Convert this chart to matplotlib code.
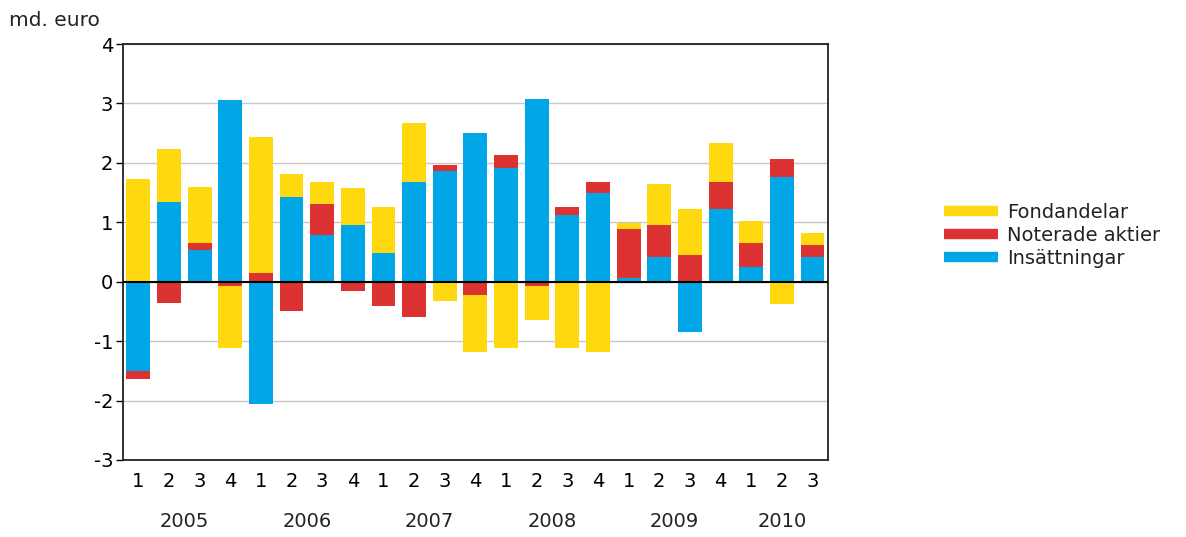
import numpy as np
import matplotlib
matplotlib.use('Agg')
import matplotlib.pyplot as plt
from matplotlib.lines import Line2D

plt.rcParams.update({
    'font.family': ['DejaVu Sans'],
    'font.size': 14,
    'text.color': '#222222',
    'axes.unicode_minus': False,
})

quarters = ['1', '2', '3', '4'] * 5 + ['1', '2', '3']
years = ['2005', '2006', '2007', '2008', '2009', '2010']

# md. euro per quarter, 2005Q1 .. 2010Q3
insattningar = [-1.50, 1.34, 0.53, 3.05, -2.06, 1.43, 0.79, 0.96, 0.49, 1.67, 1.87, 2.51,
                1.91, 3.08, 1.13, 1.50, 0.06, 0.42, -0.85, 1.23, 0.25, 1.77, 0.42]
noterade = [-0.13, -0.35, 0.13, -0.08, 0.15, -0.49, 0.51, -0.15, -0.41, -0.59, 0.10, -0.22,
            0.23, -0.08, 0.13, 0.17, 0.83, 0.54, 0.45, 0.44, 0.40, 0.30, 0.20]
fondandelar = [1.73, 0.90, 0.94, -1.04, 2.29, 0.38, 0.37, 0.61, 0.77, 1.00, -0.32, -0.97,
               -1.12, -0.57, -1.12, -1.19, 0.10, 0.68, 0.78, 0.67, 0.38, -0.38, 0.20]

series = [
    ('Insättningar', insattningar, '#00a6e6'),
    ('Noterade aktier', noterade, '#dc3232'),
    ('Fondandelar', fondandelar, '#ffd90f'),
]

fig = plt.figure(figsize=(11.86, 5.37), dpi=100)
ax = fig.add_axes([0.1037, 0.1434, 0.5943, 0.7746])

x = np.arange(len(quarters))
pos_bottom = np.zeros(len(x))
neg_bottom = np.zeros(len(x))
for name, vals, color in series:
    v = np.array(vals)
    bottom = np.where(v >= 0, pos_bottom, neg_bottom)
    ax.bar(x, v, bottom=bottom, width=0.78, color=color, edgecolor='none', zorder=2)
    pos_bottom += np.where(v >= 0, v, 0)
    neg_bottom += np.where(v < 0, v, 0)

ax.axhline(0, color='black', linewidth=1.5, zorder=3)
ax.set_xlim(-0.5, len(x) - 0.5)
ax.set_ylim(-3, 4)
ax.set_yticks(range(-3, 5))
ax.yaxis.grid(True, color='#c8c8c8', linewidth=1)
ax.set_axisbelow(True)
ax.tick_params(axis='y', length=5, width=1, labelsize=14, pad=2)
ax.tick_params(axis='x', length=0, labelsize=14, pad=9)
ax.set_xticks(x)
ax.set_xticklabels(quarters)
for sp in ax.spines.values():
    sp.set_linewidth(1.3)
    sp.set_color('#222222')

# year labels under each group of quarters
trans = ax.get_xaxis_transform()
start = 0
for yr in years:
    n = 4 if yr != '2010' else 3
    ax.text(start + (n - 1) / 2, -0.147, yr, transform=trans, ha='center', va='center', fontsize=14)
    start += n

fig.text(0.008, 0.962, 'md. euro', fontsize=14.5, ha='left', va='center')

handles = [Line2D([0], [0], color=c, linewidth=7.5, solid_capstyle='butt') for _, _, c in series[::-1]]
labels = [n for n, _, _ in series[::-1]]
fig.legend(handles, labels, loc='center left', bbox_to_anchor=(0.788, 0.562), frameon=False,
           fontsize=14, handlelength=2.75, handletextpad=0.5, labelspacing=0.2, borderpad=0)

fig.savefig('out.png', dpi=100, facecolor='white')
